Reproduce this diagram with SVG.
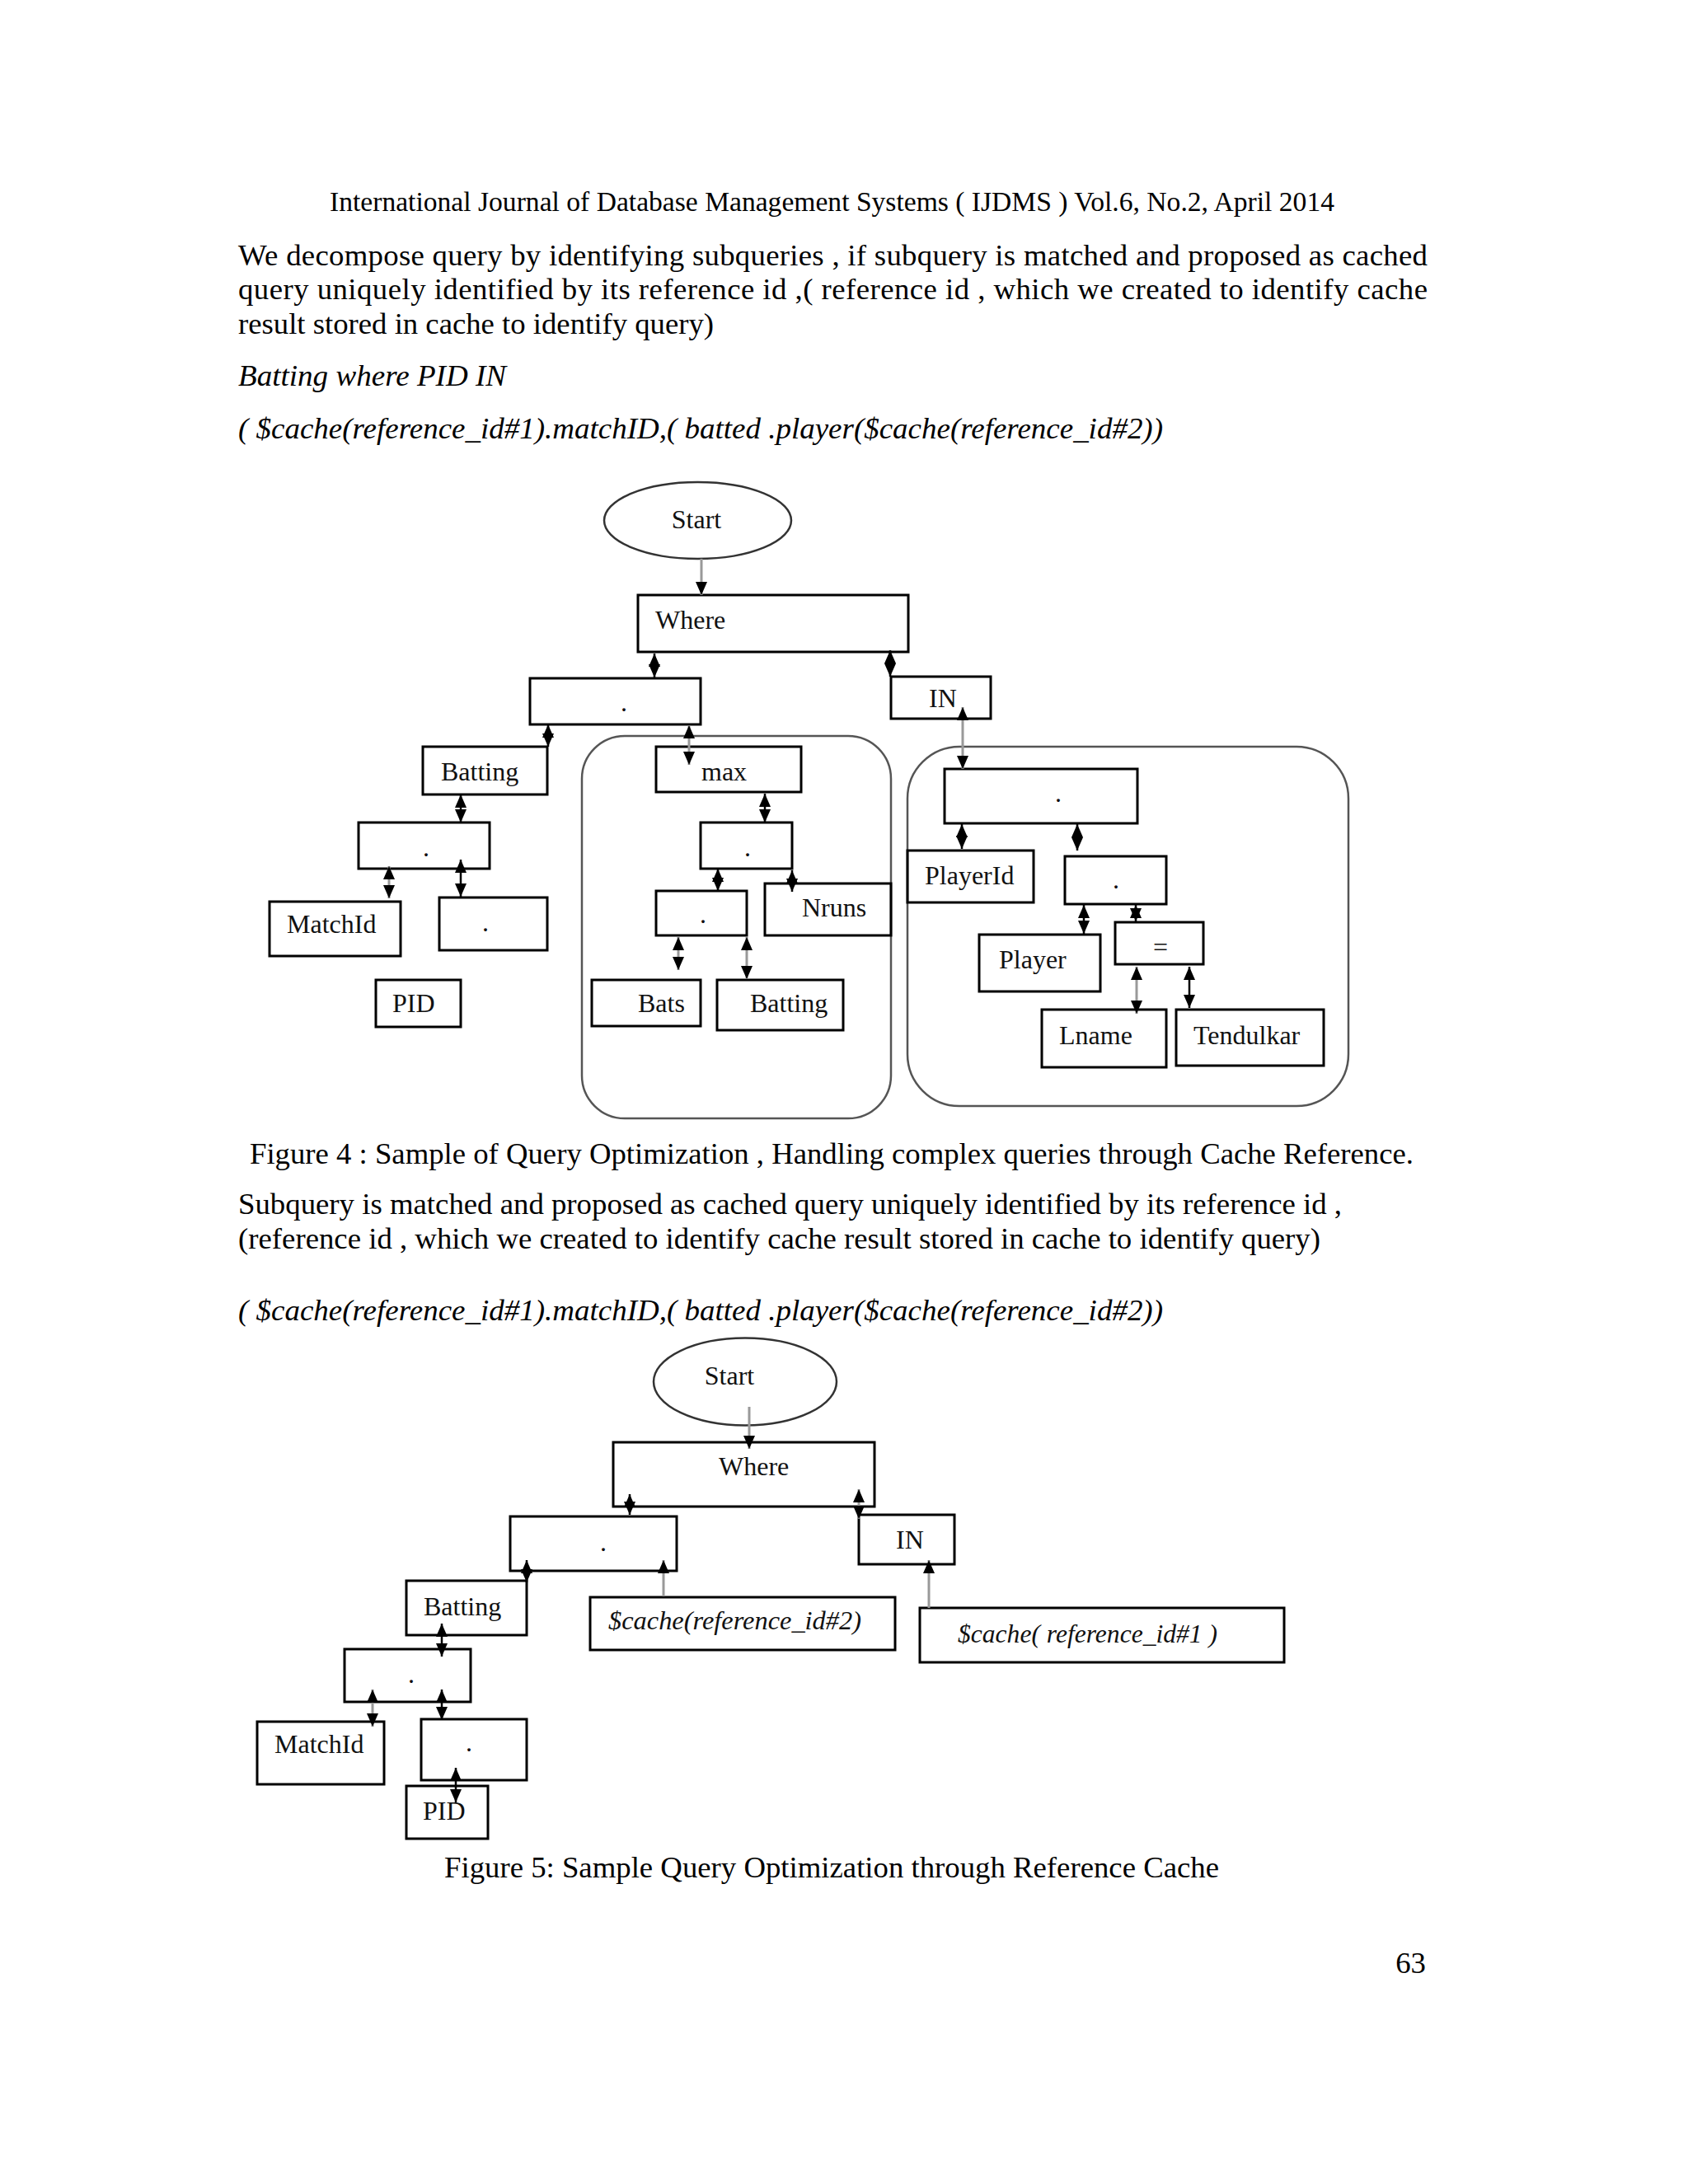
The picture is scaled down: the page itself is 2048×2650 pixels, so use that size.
<svg xmlns="http://www.w3.org/2000/svg" width="2048" height="2650" viewBox="0 0 2048 2650">
<style>
.box{fill:none;stroke:#000;stroke-width:3}
.cont{fill:none;stroke:#555;stroke-width:2.5}
.ell{fill:none;stroke:#333;stroke-width:2.5}
.t{font-family:"Liberation Serif","Times New Roman",serif;font-size:32px;fill:#111}
.b{font-family:"Liberation Serif","Times New Roman",serif;font-size:36.8px;fill:#000}
.h{font-family:"Liberation Serif","Times New Roman",serif;font-size:33px;fill:#000}
.it{font-style:italic}
.lk{stroke:#000;stroke-width:2.5;fill:none}
.lg{stroke:#999;stroke-width:3;fill:none}
</style>
<defs>
<marker id="ah" markerUnits="userSpaceOnUse" markerWidth="16" markerHeight="14" refX="16" refY="7" orient="auto-start-reverse" viewBox="0 0 16 14">
<path d="M0,0 L16,7 L0,14 z" fill="#000"/>
</marker>
</defs>
<rect x="0" y="0" width="2048" height="2650" fill="#fff"/>

<g id="page-text">
<text class="h" x="400" y="256" textLength="1219" lengthAdjust="spacingAndGlyphs">International Journal of Database Management Systems ( IJDMS ) Vol.6, No.2, April 2014</text>
<text class="b" x="289" y="322" textLength="1443" lengthAdjust="spacing">We decompose query by identifying subqueries , if subquery is matched and proposed as cached</text>
<text class="b" x="289" y="363" textLength="1443" lengthAdjust="spacing">query uniquely identified by its reference id ,( reference id , which we created to identify cache</text>
<text class="b" x="289" y="405" textLength="577" lengthAdjust="spacingAndGlyphs">result stored in cache to identify query)</text>
<text class="b it" x="289" y="468" textLength="325" lengthAdjust="spacingAndGlyphs">Batting where PID IN</text>
<text class="b it" x="289" y="532" textLength="1122" lengthAdjust="spacingAndGlyphs">( $cache(reference_id#1).matchID,( batted .player($cache(reference_id#2))</text>
<text class="b" x="303" y="1412" textLength="1412" lengthAdjust="spacingAndGlyphs">Figure 4 : Sample of Query Optimization , Handling complex queries through Cache Reference.</text>
<text class="b" x="289" y="1473" textLength="1339" lengthAdjust="spacingAndGlyphs">Subquery is matched and proposed as cached query uniquely identified by its reference id ,</text>
<text class="b" x="289" y="1515" textLength="1313" lengthAdjust="spacingAndGlyphs">(reference id , which we created to identify cache result stored in cache to identify query)</text>
<text class="b it" x="289" y="1602" textLength="1122" lengthAdjust="spacingAndGlyphs">( $cache(reference_id#1).matchID,( batted .player($cache(reference_id#2))</text>
<text class="b" x="539" y="2278" textLength="940" lengthAdjust="spacingAndGlyphs">Figure 5: Sample Query Optimization through Reference Cache</text>
<text class="b" x="1730" y="2394" text-anchor="end">63</text>
</g>

<!-- Figure 4 -->
<g id="f4-containers">
<rect id="f4-cont1" class="cont" x="706" y="893" width="375" height="464" rx="52" ry="52"/>
<rect id="f4-cont2" class="cont" x="1101" y="906" width="535" height="436" rx="63" ry="63"/>
</g>
<g id="f4-start"><ellipse class="ell" cx="846.5" cy="631.5" rx="113.5" ry="46.5"/><text class="t" x="845" y="641" text-anchor="middle">Start</text></g>
<g id="f4-where"><rect class="box" x="774" y="722" width="328" height="69"/><text class="t" x="795" y="763">Where</text></g>
<g id="f4-dot1"><rect class="box" x="643" y="823" width="207" height="56"/><text class="t" x="753" y="863">.</text></g>
<g id="f4-in"><rect class="box" x="1081" y="821" width="121" height="51"/><text class="t" x="1127" y="858">IN</text></g>
<g id="f4-batting"><rect class="box" x="513" y="906" width="151" height="58"/><text class="t" x="535" y="947">Batting</text></g>
<g id="f4-max"><rect class="box" x="796" y="906" width="176" height="55"/><text class="t" x="851" y="947">max</text></g>
<g id="f4-dot4"><rect class="box" x="435" y="998" width="159" height="56"/><text class="t" x="513" y="1039">.</text></g>
<g id="f4-matchid"><rect class="box" x="327" y="1094" width="159" height="66"/><text class="t" x="348" y="1132">MatchId</text></g>
<g id="f4-dot5"><rect class="box" x="533" y="1089" width="131" height="64"/><text class="t" x="585" y="1130">.</text></g>
<g id="f4-pid"><rect class="box" x="456" y="1189" width="103" height="57"/><text class="t" x="476" y="1228">PID</text></g>
<g id="f4-dot2"><rect class="box" x="850" y="998" width="111" height="56"/><text class="t" x="903" y="1039">.</text></g>
<g id="f4-nruns"><rect class="box" x="928" y="1072" width="153" height="63"/><text class="t" x="973" y="1112">Nruns</text></g>
<g id="f4-dot3"><rect class="box" x="796" y="1081" width="110" height="54"/><text class="t" x="849" y="1120">.</text></g>
<g id="f4-bats"><rect class="box" x="718" y="1189" width="132" height="56"/><text class="t" x="774" y="1228">Bats</text></g>
<g id="f4-batting2"><rect class="box" x="870" y="1189" width="153" height="61"/><text class="t" x="910" y="1228">Batting</text></g>
<g id="f4-dotA"><rect class="box" x="1146" y="933" width="234" height="66"/><text class="t" x="1280" y="973">.</text></g>
<g id="f4-playerid"><rect class="box" x="1101" y="1032" width="153" height="63"/><text class="t" x="1122" y="1073">PlayerId</text></g>
<g id="f4-dotB"><rect class="box" x="1292" y="1039" width="123" height="58"/><text class="t" x="1350" y="1078">.</text></g>
<g id="f4-player"><rect class="box" x="1188" y="1134" width="147" height="69"/><text class="t" x="1212" y="1175">Player</text></g>
<g id="f4-eq"><rect class="box" x="1353" y="1119" width="107" height="51"/><text class="t" x="1408" y="1160" text-anchor="middle">=</text></g>
<g id="f4-lname"><rect class="box" x="1264" y="1225" width="151" height="70"/><text class="t" x="1285" y="1267">Lname</text></g>
<g id="f4-tendulkar"><rect class="box" x="1427" y="1225" width="179" height="68"/><text class="t" x="1448" y="1267">Tendulkar</text></g>

<g id="f4-connectors">
<path class="lg" d="M851,678 V722" marker-end="url(#ah)"/>
<path class="lk" d="M794,793 V822" marker-start="url(#ah)" marker-end="url(#ah)"/>
<path class="lk" d="M1080,789 V821" marker-start="url(#ah)" marker-end="url(#ah)"/>
<path class="lg" d="M1168,858 V933" marker-start="url(#ah)" marker-end="url(#ah)"/>
<path class="lk" d="M665,879 V906" marker-start="url(#ah)" marker-end="url(#ah)"/>
<path class="lg" d="M836,880 V928" marker-start="url(#ah)" marker-end="url(#ah)"/>
<path class="lk" d="M559,964 V998" marker-start="url(#ah)" marker-end="url(#ah)"/>
<path class="lg" d="M472,1051 V1090" marker-start="url(#ah)" marker-end="url(#ah)"/>
<path class="lk" d="M559,1043 V1088" marker-start="url(#ah)" marker-end="url(#ah)"/>
<path class="lk" d="M928,963 V998" marker-start="url(#ah)" marker-end="url(#ah)"/>
<path class="lk" d="M871,1054 V1081" marker-start="url(#ah)" marker-end="url(#ah)"/>
<path class="lk" d="M961,1056 V1082" marker-start="url(#ah)" marker-end="url(#ah)"/>
<path class="lg" d="M823,1137 V1177" marker-start="url(#ah)" marker-end="url(#ah)"/>
<path class="lg" d="M906,1137 V1188" marker-start="url(#ah)" marker-end="url(#ah)"/>
<path class="lk" d="M1167,1000 V1030" marker-start="url(#ah)" marker-end="url(#ah)"/>
<path class="lk" d="M1307,1000 V1032" marker-start="url(#ah)" marker-end="url(#ah)"/>
<path class="lk" d="M1315,1098 V1133" marker-start="url(#ah)" marker-end="url(#ah)"/>
<path class="lk" d="M1378,1098 V1118" marker-start="url(#ah)" marker-end="url(#ah)"/>
<path class="lg" d="M1379,1173 V1230" marker-start="url(#ah)" marker-end="url(#ah)"/>
<path class="lk" d="M1443,1173 V1223" marker-start="url(#ah)" marker-end="url(#ah)"/>
</g>

<!-- Figure 5 -->
<g id="f5-start"><ellipse class="ell" cx="904" cy="1676.5" rx="111" ry="53"/><text class="t" x="885" y="1680" text-anchor="middle">Start</text></g>
<g id="f5-where"><rect class="box" x="744" y="1750" width="317" height="78"/><text class="t" x="872" y="1790">Where</text></g>
<g id="f5-dotA"><rect class="box" x="619" y="1840" width="202" height="66"/><text class="t" x="728" y="1882">.</text></g>
<g id="f5-in"><rect class="box" x="1042" y="1838" width="116" height="60"/><text class="t" x="1087" y="1879">IN</text></g>
<g id="f5-batting"><rect class="box" x="493" y="1918" width="146" height="66"/><text class="t" x="514" y="1960">Batting</text></g>
<g id="f5-cache2"><rect class="box" x="716" y="1938" width="370" height="64"/><text class="t it" x="738" y="1977" textLength="307" lengthAdjust="spacingAndGlyphs">$cache(reference_id#2)</text></g>
<g id="f5-cache1"><rect class="box" x="1116" y="1951" width="442" height="66"/><text class="t it" x="1162" y="1993" textLength="315" lengthAdjust="spacingAndGlyphs">$cache( reference_id#1 )</text></g>
<g id="f5-dotB"><rect class="box" x="418" y="2001" width="153" height="64"/><text class="t" x="495" y="2042">.</text></g>
<g id="f5-matchid"><rect class="box" x="312" y="2089" width="154" height="76"/><text class="t" x="333" y="2127">MatchId</text></g>
<g id="f5-dotC"><rect class="box" x="511" y="2086" width="128" height="74"/><text class="t" x="565" y="2125">.</text></g>
<g id="f5-pid"><rect class="box" x="493" y="2167" width="99" height="64"/><text class="t" x="513" y="2208">PID</text></g>

<g id="f5-connectors">
<path class="lg" d="M909,1707 V1758" marker-end="url(#ah)"/>
<path class="lk" d="M764,1813 V1838" marker-start="url(#ah)" marker-end="url(#ah)"/>
<path class="lg" d="M1042,1807 V1843" marker-start="url(#ah)" marker-end="url(#ah)"/>
<path class="lk" d="M639,1893 V1920" marker-start="url(#ah)" marker-end="url(#ah)"/>
<path class="lg" d="M805,1893 V1937" marker-start="url(#ah)"/>
<path class="lg" d="M1127,1893 V1951" marker-start="url(#ah)"/>
<path class="lk" d="M536,1970 V2010" marker-start="url(#ah)" marker-end="url(#ah)"/>
<path class="lg" d="M452,2050 V2095" marker-start="url(#ah)" marker-end="url(#ah)"/>
<path class="lk" d="M536,2050 V2087" marker-start="url(#ah)" marker-end="url(#ah)"/>
<path class="lk" d="M553,2145 V2187" marker-start="url(#ah)" marker-end="url(#ah)"/>
</g>
</svg>
